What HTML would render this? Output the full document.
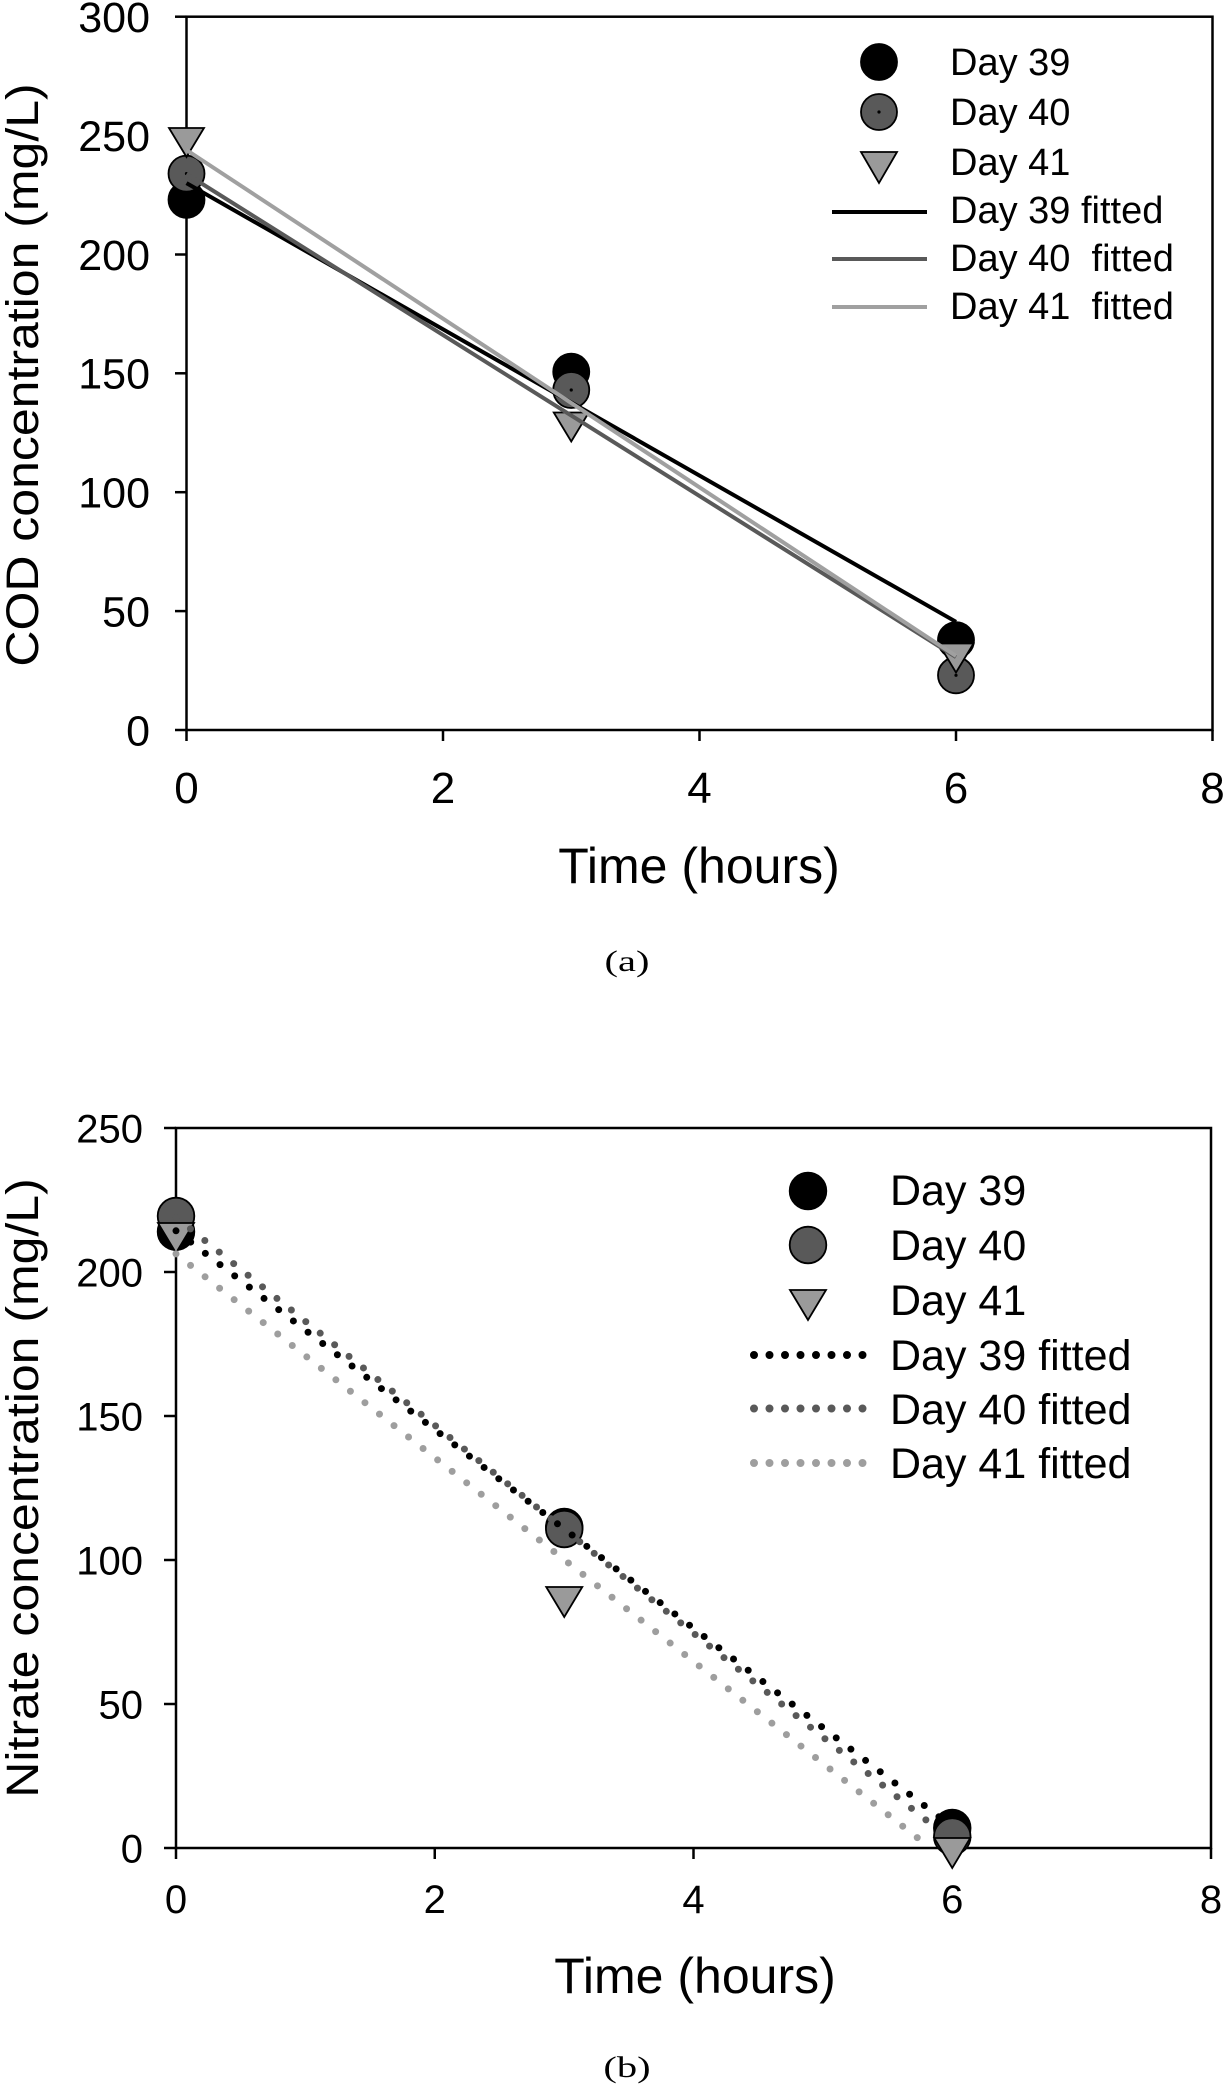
<!DOCTYPE html>
<html>
<head>
<meta charset="utf-8">
<style>
  html,body{margin:0;padding:0;background:#fff;}
  svg{display:block;}
  text{font-family:"Liberation Sans",Arial,sans-serif;fill:#000;}
  .serif{font-family:"Liberation Serif","Noto Serif CJK SC",serif;}
  .pre{white-space:pre;}
</style>
</head>
<body>
<svg width="1225" height="2087" viewBox="0 0 1225 2087" xmlns="http://www.w3.org/2000/svg">
  <rect x="0" y="0" width="1225" height="2087" fill="#fff"/>

  <!-- ================= PANEL (a) ================= -->
  <g stroke="#000" stroke-width="2.5" fill="none">
    <rect x="186.5" y="16.7" width="1026" height="713.3"/>
    <line x1="175" y1="730" x2="186.5" y2="730"/>
    <line x1="175" y1="611.1" x2="186.5" y2="611.1"/>
    <line x1="175" y1="492.2" x2="186.5" y2="492.2"/>
    <line x1="175" y1="373.3" x2="186.5" y2="373.3"/>
    <line x1="175" y1="254.5" x2="186.5" y2="254.5"/>
    <line x1="175" y1="135.6" x2="186.5" y2="135.6"/>
    <line x1="175" y1="16.7" x2="186.5" y2="16.7"/>
    <line x1="186.5" y1="730" x2="186.5" y2="741"/>
    <line x1="443" y1="730" x2="443" y2="741"/>
    <line x1="699.5" y1="730" x2="699.5" y2="741"/>
    <line x1="956" y1="730" x2="956" y2="741"/>
    <line x1="1212.5" y1="730" x2="1212.5" y2="741"/>
  </g>
  <g font-size="43" text-anchor="end">
    <text x="150" y="745.4">0</text>
    <text x="150" y="626.5">50</text>
    <text x="150" y="507.6">100</text>
    <text x="150" y="388.7">150</text>
    <text x="150" y="269.9">200</text>
    <text x="150" y="151">250</text>
    <text x="150" y="32.1">300</text>
  </g>
  <g font-size="44" text-anchor="middle">
    <text x="186.5" y="803">0</text>
    <text x="443" y="803">2</text>
    <text x="699.5" y="803">4</text>
    <text x="956" y="803">6</text>
    <text x="1212.5" y="803">8</text>
  </g>
  <text font-size="50" text-anchor="middle" x="699" y="883">Time (hours)</text>
  <text font-size="50" text-anchor="middle" transform="translate(38,375) rotate(-90) scale(1,0.9)">COD concentration (mg/L)</text>
  <text class="serif" font-size="30" text-anchor="middle" transform="translate(627,971) scale(1.35,1)">(a)</text>

  <!-- markers (a) -->
  <g stroke="#000" stroke-width="1.8">
    <circle cx="186.5" cy="199.8" r="18" fill="#000"/>
    <circle cx="571.25" cy="371.7" r="18" fill="#000"/>
    <circle cx="956" cy="640.1" r="18" fill="#000"/>

    <circle cx="186.5" cy="173.6" r="18" fill="#595959"/>
    <circle cx="571.25" cy="390" r="18" fill="#595959"/>
    <circle cx="956" cy="675.3" r="18" fill="#595959"/>

    <polygon points="169,128 204,128 186.5,157" fill="#9a9a9a"/>
    <polygon points="553.75,412.5 588.75,412.5 571.25,441.5" fill="#9a9a9a"/>
    <polygon points="938.5,643.5 973.5,643.5 956,672.5" fill="#9a9a9a"/>
  </g>
  <g fill="#000">
    <circle cx="186.5" cy="173.6" r="1.6"/>
    <circle cx="571.25" cy="390" r="1.6"/>
    <circle cx="956" cy="675.3" r="1.6"/>
  </g>
  <g stroke-width="4" fill="none" stroke-linecap="butt">
    <line x1="186.5" y1="183.1" x2="956" y2="621.8" stroke="#000"/>
    <line x1="186.5" y1="174" x2="956" y2="657" stroke="#595959"/>
    <line x1="186.5" y1="150" x2="956" y2="656" stroke="#a0a0a0"/>
  </g>

  <!-- legend (a) -->
  <g stroke="#000" stroke-width="1.8">
    <circle cx="879" cy="62" r="18" fill="#000"/>
    <circle cx="879" cy="112" r="18" fill="#595959"/>
    <polygon points="861,152 897,152 879,183" fill="#9a9a9a"/>
  </g>
  <circle cx="879" cy="112" r="1.6" fill="#000"/>
  <g stroke-width="4">
    <line x1="832" y1="212" x2="927" y2="212" stroke="#000"/>
    <line x1="832" y1="259" x2="927" y2="259" stroke="#595959"/>
    <line x1="832" y1="307" x2="927" y2="307" stroke="#a0a0a0"/>
  </g>
  <g font-size="38" class="pre">
    <text x="950" y="75">Day 39</text>
    <text x="950" y="125">Day 40</text>
    <text x="950" y="175">Day 41</text>
    <text x="950" y="223">Day 39 fitted</text>
    <text x="950" y="271" xml:space="preserve">Day 40  fitted</text>
    <text x="950" y="319" xml:space="preserve">Day 41  fitted</text>
  </g>

  <!-- ================= PANEL (b) ================= -->
  <g stroke="#000" stroke-width="2.5" fill="none">
    <rect x="176" y="1128" width="1035" height="720"/>
    <line x1="164" y1="1848" x2="176" y2="1848"/>
    <line x1="164" y1="1704" x2="176" y2="1704"/>
    <line x1="164" y1="1560" x2="176" y2="1560"/>
    <line x1="164" y1="1416" x2="176" y2="1416"/>
    <line x1="164" y1="1272" x2="176" y2="1272"/>
    <line x1="164" y1="1128" x2="176" y2="1128"/>
    <line x1="176" y1="1848" x2="176" y2="1859"/>
    <line x1="434.75" y1="1848" x2="434.75" y2="1859"/>
    <line x1="693.5" y1="1848" x2="693.5" y2="1859"/>
    <line x1="952.25" y1="1848" x2="952.25" y2="1859"/>
    <line x1="1211" y1="1848" x2="1211" y2="1859"/>
  </g>
  <g font-size="40" text-anchor="end">
    <text x="143" y="1862.3">0</text>
    <text x="143" y="1718.3">50</text>
    <text x="143" y="1574.3">100</text>
    <text x="143" y="1430.3">150</text>
    <text x="143" y="1286.3">200</text>
    <text x="143" y="1142.3">250</text>
  </g>
  <g font-size="40" text-anchor="middle">
    <text x="176" y="1913">0</text>
    <text x="434.75" y="1913">2</text>
    <text x="693.5" y="1913">4</text>
    <text x="952.25" y="1913">6</text>
    <text x="1211" y="1913">8</text>
  </g>
  <text font-size="50" text-anchor="middle" x="695" y="1993">Time (hours)</text>
  <text font-size="50" text-anchor="middle" transform="translate(38,1488) rotate(-90) scale(1,0.9)">Nitrate concentration (mg/L)</text>
  <text class="serif" font-size="30" text-anchor="middle" transform="translate(627,2077) scale(1.35,1)">(b)</text>

  <!-- markers (b) -->
  <g stroke="#000" stroke-width="1.8">
    <circle cx="176" cy="1231.7" r="18.3" fill="#000"/>
    <circle cx="564.25" cy="1527" r="18.3" fill="#000"/>
    <circle cx="952.25" cy="1828" r="18.3" fill="#000"/>

    <circle cx="176" cy="1216" r="18.3" fill="#595959"/>
    <circle cx="564.25" cy="1529" r="18.3" fill="#595959"/>
    <circle cx="952.25" cy="1836.5" r="18.3" fill="#595959"/>

    <polygon points="158,1223 194,1223 176,1253" fill="#9a9a9a"/>
    <polygon points="546.25,1587 582.25,1587 564.25,1617" fill="#9a9a9a"/>
    <polygon points="934.25,1838 970.25,1838 952.25,1868" fill="#9a9a9a"/>
  </g>
  <g stroke-width="7" fill="none" stroke-linecap="round" stroke-dasharray="0 18.5">
    <line x1="176" y1="1230.8" x2="952.25" y2="1827" stroke="#000"/>
    <line x1="176" y1="1217.3" x2="952.25" y2="1841.1" stroke="#595959"/>
    <line x1="176" y1="1253.9" x2="930.4" y2="1848" stroke="#9e9e9e"/>
  </g>

  <!-- legend (b) -->
  <g stroke="#000" stroke-width="1.8">
    <circle cx="808" cy="1191" r="18.3" fill="#000"/>
    <circle cx="808" cy="1245" r="18.3" fill="#595959"/>
    <polygon points="790,1290 826,1290 808,1320" fill="#9a9a9a"/>
  </g>
  <g stroke-width="8" fill="none" stroke-linecap="round" stroke-dasharray="0 15.5">
    <line x1="754" y1="1355" x2="863" y2="1355" stroke="#000"/>
    <line x1="754" y1="1408.5" x2="863" y2="1408.5" stroke="#595959"/>
    <line x1="754" y1="1463" x2="863" y2="1463" stroke="#9e9e9e"/>
  </g>
  <g font-size="43">
    <text x="890" y="1205">Day 39</text>
    <text x="890" y="1260">Day 40</text>
    <text x="890" y="1315">Day 41</text>
    <text x="890" y="1370">Day 39 fitted</text>
    <text x="890" y="1424">Day 40 fitted</text>
    <text x="890" y="1478">Day 41 fitted</text>
  </g>
</svg>
</body>
</html>
